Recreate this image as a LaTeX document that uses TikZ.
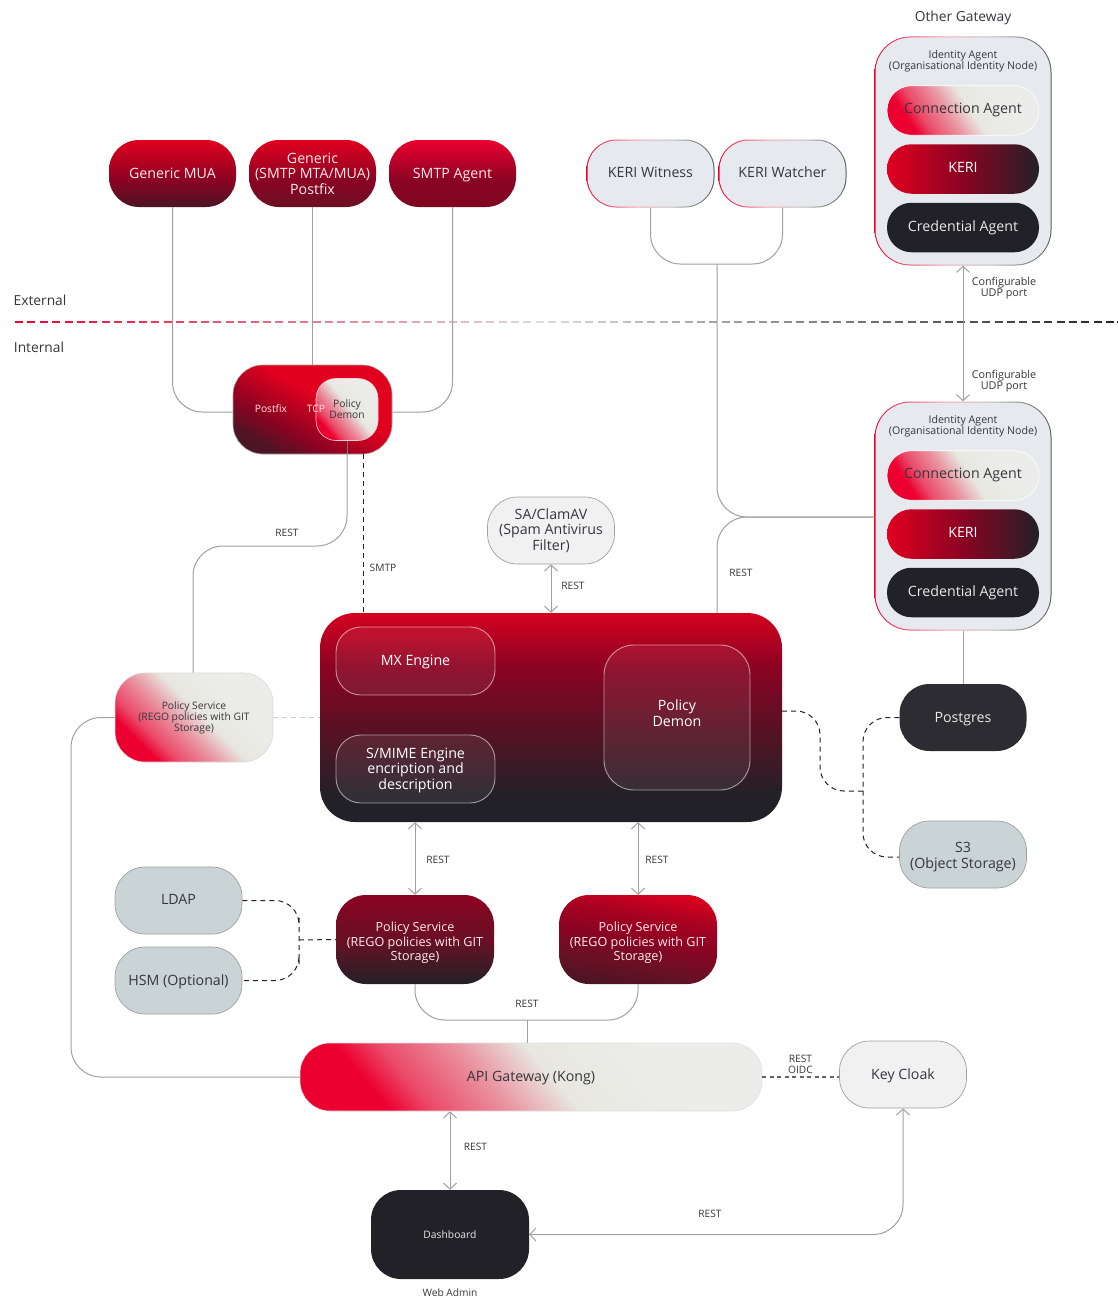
\documentclass[tikz,border=0pt]{standalone}
\usepackage{fontspec}
\setmainfont{Open Sans}
\usetikzlibrary{arrows.meta,calc}
\definecolor{crim}{HTML}{E2001F}
\definecolor{hot}{HTML}{EC0030}
\definecolor{wine}{HTML}{8A0322}
\definecolor{ink}{HTML}{222127}
\definecolor{bone}{HTML}{E8E8E1}
\definecolor{bonehi}{HTML}{ECEDEA}
\definecolor{wire}{HTML}{A0A0A0}
\definecolor{mist}{HTML}{CAD3D6}
\definecolor{pale}{HTML}{F1F1F1}
\definecolor{ice}{HTML}{E6EAEF}
\definecolor{txtd}{HTML}{36363C}
\definecolor{fadeg}{HTML}{DCDCDC}
\definecolor{dusk}{HTML}{4C1526}
\definecolor{plum}{HTML}{6A1024}
\pgfdeclareverticalshading{mainshade}{100bp}{color(0bp)=(ink); color(31bp)=(ink); color(42bp)=(ink!65!wine); color(62bp)=(wine); color(75bp)=(crim!85!wine); color(100bp)=(crim!85!wine)}
\pgfdeclarehorizontalshading{lightgrad}{100bp}{color(0bp)=(hot); color(27bp)=(hot); color(33bp)=(hot!68!bone); color(43bp)=(hot!38!bone); color(53bp)=(bone); color(70bp)=(bonehi); color(100bp)=(bonehi)}
\pgfdeclareverticalshading{reda}{100bp}{color(0bp)=(dusk); color(25bp)=(dusk); color(45bp)=(wine); color(75bp)=(crim); color(100bp)=(crim)}
\pgfdeclareverticalshading{redb}{100bp}{color(0bp)=(plum); color(25bp)=(plum); color(45bp)=(wine); color(75bp)=(crim); color(100bp)=(crim)}
\pgfdeclareverticalshading{redc}{100bp}{color(0bp)=(wine!90!ink); color(25bp)=(wine!90!ink); color(45bp)=(wine); color(75bp)=(hot); color(100bp)=(hot)}
\pgfdeclareverticalshading{polya}{100bp}{color(0bp)=(ink); color(25bp)=(ink); color(50bp)=(plum); color(75bp)=(wine); color(100bp)=(wine)}
\pgfdeclarehorizontalshading{polyb}{100bp}{color(0bp)=(dusk); color(25bp)=(dusk); color(37bp)=(plum); color(50bp)=(wine); color(63bp)=(crim!35!wine); color(75bp)=(crim!90!wine); color(100bp)=(crim!90!wine)}
\pgfdeclarehorizontalshading{pfgrad}{100bp}{color(0bp)=(dusk); color(25bp)=(dusk); color(37bp)=(wine); color(56bp)=(crim); color(100bp)=(crim)}
\pgfdeclarehorizontalshading{kerigrad}{100bp}{color(0bp)=(crim); color(25bp)=(crim); color(50bp)=(wine); color(75bp)=(ink); color(100bp)=(ink)}
\pgfdeclarehorizontalshading{edgegrad}{100bp}{color(0bp)=(hot); color(25bp)=(hot); color(45bp)=(hot!35!white); color(58bp)=(black!25); color(75bp)=(ink!75); color(100bp)=(ink!75)}
\newcommand{\atb}[2]{\raisebox{-#1}[0pt][0pt]{#2}}
\newcommand{\mlines}[2]{\raisebox{-#1}[0pt][0pt]{\begin{tabular}{@{}c@{}}#2\end{tabular}}}
\tikzset{
  x=1pt,y=-1pt,
  boxbase/.style={rectangle,align=center,inner sep=0pt,font=\fontsize{14.2}{15.5}\selectfont},
  lightbox/.style={boxbase,shading=lightgrad,shading angle=#1,text=txtd},
  redbox/.style={boxbase,shading=#1,text=white!92!red},
  pillsize/.style={minimum width=127pt,minimum height=67pt,rounded corners=30pt},
  inpill/.style={minimum width=152pt,minimum height=49.5pt,rounded corners=24.5pt},
  wirel/.style={draw=wire,line width=1pt},
  twoway/.style={wirel,{Straight Barb[length=6pt,width=13pt,line width=1pt]}-{Straight Barb[length=6pt,width=13pt,line width=1pt]}},
  dashw/.style={draw=ink,line width=1pt,dash pattern=on 5pt off 4pt},
  lbl/.style={font=\fontsize{10.2}{11.2}\selectfont,text=txtd,align=center,inner sep=0pt},
  bigl/.style={lbl,font=\fontsize{13.8}{15}\selectfont},
  small/.style={font=\fontsize{10.3}{11}\selectfont},
  service/.style={minimum width=158pt,minimum height=89pt,rounded corners=30pt,font=\fontsize{12.6}{14.4}\selectfont},
  glass/.style={boxbase,rounded corners=#1,draw=white,draw opacity=.55,line width=.9pt,fill=white,fill opacity=.07,text opacity=1,text=white},
}
% gradient-edged box: shaded outer plate with a filled plate inset on it
\newcommand{\edgeplate}[7]{% name, cx, cy, w, h, r, fill
  \node[rectangle,minimum width=#4 pt,minimum height=#5 pt,rounded corners=#6pt,shading=edgegrad,inner sep=0pt] (#1) at (#2,#3) {};
  \pgfmathsetmacro{\innerr}{#6-1}
  \fill[#7,rounded corners=\innerr pt] ($(#1.south west)+(1.2pt,1.2pt)$) rectangle ($(#1.north east)-(1.2pt,1.2pt)$);
}
\newcommand{\gatewaystack}[2]{% prefix, y offset
  \edgeplate{#1box}{963}{#2+151}{177}{229}{36}{ice}
  \node[lbl,font=\fontsize{10.6}{11.2}\selectfont] (#1title) at (963,#2+61) {Identity Agent\\(Organisational Identity Node)};
  \node[lightbox=33,inpill,draw=white,line width=.6pt] (#1conn) at (963,#2+110.5) {\atb{2.5pt}{Connection Agent}};
  \node[boxbase,inpill,shading=kerigrad,text=white] (#1keri) at (963,#2+169) {\atb{3pt}{KERI}};
  \node[boxbase,inpill,fill=ink,text=white!90!ink] (#1cred) at (963,#2+227.5) {\atb{3.5pt}{Credential Agent}};
}
\begin{document}
\begin{tikzpicture}
\useasboundingbox (0,0) rectangle (1117,1298);
\fill[white] (0,0) rectangle (1117,1298);

% separator
\foreach \i in {0,...,89}{
  \pgfmathsetmacro{\xa}{15+\i*12.4}
  \pgfmathsetmacro{\xb}{min(\xa+8,1117)}
  \pgfmathsetmacro{\ta}{\i<42 ? 100-\i*100/42 : 0}
  \pgfmathsetmacro{\tb}{\i>42 ? (\i-42)*100/47 : 0}
  \ifdim\ta pt>0pt
    \colorlet{dashc}{hot!\ta!fadeg}
  \else
    \colorlet{dashc}{ink!\tb!fadeg}
  \fi
  \draw[dashc,line width=2pt] (\xa,322) -- (\xb,322);
}
\node[bigl] (ext) at (40,300) {External};
\node[bigl] (int) at (39,347.5) {Internal};

% top senders
\node[redbox=reda,pillsize] (mua) at (172.5,173.5) {\atb{4.5pt}{Generic MUA}};
\node[redbox=redb,pillsize] (gen) at (312.5,173.5) {Generic\\(SMTP MTA/MUA)\\Postfix};
\node[redbox=redc,pillsize] (smtp) at (452.5,173.5) {\atb{4.5pt}{SMTP Agent}};

% KERI pair
\edgeplate{wit}{650.5}{173.5}{128}{68}{30}{ice}
\node[boxbase,text=txtd] (witt) at (wit.center) {\atb{4pt}{KERI Witness}};
\edgeplate{wat}{782.5}{173.5}{128}{68}{30}{ice}
\node[boxbase,text=txtd] (watt) at (wat.center) {\atb{4pt}{KERI Watcher}};

% gateways
\node[bigl] (other) at (963,17.5) {Other Gateway};
\gatewaystack{up}{0}
\gatewaystack{lo}{365}

% postfix
\node[boxbase,shading=pfgrad,shading angle=60,minimum width=159pt,minimum height=89pt,rounded corners=30pt,draw=wire,line width=.6pt] (pf) at (312.5,409.5) {};
\node[lightbox=40,minimum width=62pt,minimum height=62pt,rounded corners=20pt,draw=white!80!hot,line width=.6pt,small] (pd) at (347,409.5) {Policy\\Demon};
\node[lbl,text=white!90!red] (pft) at (271,409) {Postfix};
\node[lbl,text=white!90!red] (tcp) at (316,409) {TCP};

% main engine
\node[boxbase,shading=mainshade,minimum width=462pt,minimum height=209pt,rounded corners=35pt] (main) at (551,717.5) {};
\node[glass=25pt,minimum width=159pt,minimum height=68pt] (mx) at (415.5,661) {\atb{4pt}{MX Engine}};
\node[glass=25pt,minimum width=159pt,minimum height=68pt] (sm) at (415.5,769) {\mlines{5.4pt}{S/MIME Engine\\encription and\\description}};
\node[glass=30pt,minimum width=146pt,minimum height=145pt] (pdm) at (677,717.5) {\mlines{1.4pt}{Policy\\Demon}};

% satellites
\node[boxbase,pillsize,fill=pale,draw=wire,line width=.7pt,text=txtd] (sa) at (551,530.5) {SA/ClamAV\\(Spam Antivirus\\Filter)};
\node[lightbox=45,service,draw=black!15,line width=.6pt,small] (ps0) at (194,717.5) {Policy Service\\(REGO policies with GIT\\Storage)};
\node[boxbase,pillsize,fill=ink!95!white,text=white!90!ink] (pg) at (963,717.5) {\atb{4.5pt}{Postgres}};
\node[boxbase,pillsize,fill=mist,draw=wire,line width=.7pt,text=txtd] (s3) at (963,854.5) {\mlines{6.4pt}{S3\\(Object Storage)}};
\node[boxbase,pillsize,fill=mist,draw=wire,line width=.7pt,text=txtd] (ldap) at (178.5,900.5) {\atb{3.5pt}{LDAP}};
\node[boxbase,pillsize,fill=mist,draw=wire,line width=.7pt,text=txtd] (hsm) at (178.5,980.5) {\atb{4.5pt}{HSM (Optional)}};
\node[redbox=polya,service] (ps1) at (415,939.5) {\mlines{6.75pt}{Policy Service\\(REGO policies with GIT\\Storage)}};
\node[redbox=polyb,shading angle=80,service] (ps2) at (638,939.5) {\mlines{6.75pt}{Policy Service\\(REGO policies with GIT\\Storage)}};
\node[lightbox=40,minimum width=462pt,minimum height=68pt,rounded corners=30pt,draw=black!12,line width=.6pt] (api) at (531,1077) {\atb{4pt}{API Gateway (Kong)}};
\node[boxbase,pillsize,fill=pale,draw=wire,line width=.7pt,text=txtd] (kc) at (903,1074.5) {\atb{4.5pt}{Key Cloak}};
\node[boxbase,fill=ink,service,small,text=white!90!ink] (dash) at (450,1234.5) {Dashboard};
\node[lbl] (web) at (450,1293) {Web Admin};

% connectors
\draw[wirel,rounded corners=30pt] (mua.south) |- ([yshift=-2.5pt]pf.west);
\draw[wirel] (gen.south) -- (pf.north -| gen.south);
\draw[wirel,rounded corners=30pt] (smtp.south) |- ([yshift=-2.5pt]pf.east);
\coordinate (wj) at (717,264);
\draw[wirel,rounded corners=30pt] (wit.south) |- (wj) -| (wat.south);
\coordinate (lj) at (747,517);
\draw[wirel,rounded corners=30pt] (wj) |- (lobox.west |- lj);
\draw[wirel,rounded corners=30pt] (main.north -| wj) |- (lobox.west |- lj);
\draw[twoway] (upbox.south) -- (lobox.north);
\draw[wirel,draw=ink!60] (pd.south) -- (pf.south -| pd.south);
\coordinate (rj) at (193,546);
\draw[wirel,rounded corners=30pt] (pf.south -| pd.south) |- (rj) -- (ps0.north -| rj);
\draw[dashw] (pf.south -| 363.5,0) -- (main.north -| 363.5,0);
\draw[twoway] (sa.south) -- (main.north -| sa.south);
\draw[dashw,draw=black!20] (ps0.east) -- (main.west);
\draw[wirel,rounded corners=30pt] (ps0.west) -| (71,1077) -- (api.west);
\draw[wirel] (lobox.south) -- (pg.north);
\coordinate (sj) at (863,791);
\draw[dashw,rounded corners=24pt] (main.east |- 0,711) -| (820,791) -- (sj);
\draw[dashw,rounded corners=24pt] (pg.west) -| (sj) |- (s3.west |- 0,857);
\draw[dashw,rounded corners=24pt] (ldap.east) -| (299,940) |- (hsm.east);
\draw[dashw] (299,940) -- (ps1.west);
\draw[twoway] (main.south -| ps1.north) -- (ps1.north);
\draw[twoway] (main.south -| ps2.north) -- (ps2.north);
\draw[wirel,rounded corners=30pt] (ps1.south) |- (527,1020) -| (ps2.south);
\draw[wirel] (527,1020) -- (api.north -| 527,0);
\draw[dashw,draw=ink!70,line width=1.3pt,dash pattern=on 4pt off 3.5pt] (api.east) -- (kc.west |- api.east);
\draw[twoway] (api.south -| dash.north) -- (dash.north);
\draw[twoway,rounded corners=30pt] (kc.south) |- (dash.east);

% connector labels
\node[lbl] (l1) at (287,533) {REST};
\node[lbl] (l2) at (383,567.5) {SMTP};
\node[lbl] (l3) at (573,586) {REST};
\node[lbl] (l4) at (741,573) {REST};
\node[lbl,font=\fontsize{10.8}{11.3}\selectfont] (l5) at (1004,288) {Configurable\\UDP port};
\node[lbl,font=\fontsize{10.8}{11.3}\selectfont] (l6) at (1004,381) {Configurable\\UDP port};
\node[lbl] (l7) at (438,860) {REST};
\node[lbl] (l8) at (657,860) {REST};
\node[lbl] (l9) at (527,1004) {REST};
\node[lbl] (l10) at (800.5,1064) {REST\\OIDC};
\node[lbl] (l11) at (475.5,1147) {REST};
\node[lbl] (l12) at (710,1214) {REST};
\end{tikzpicture}
\end{document}
